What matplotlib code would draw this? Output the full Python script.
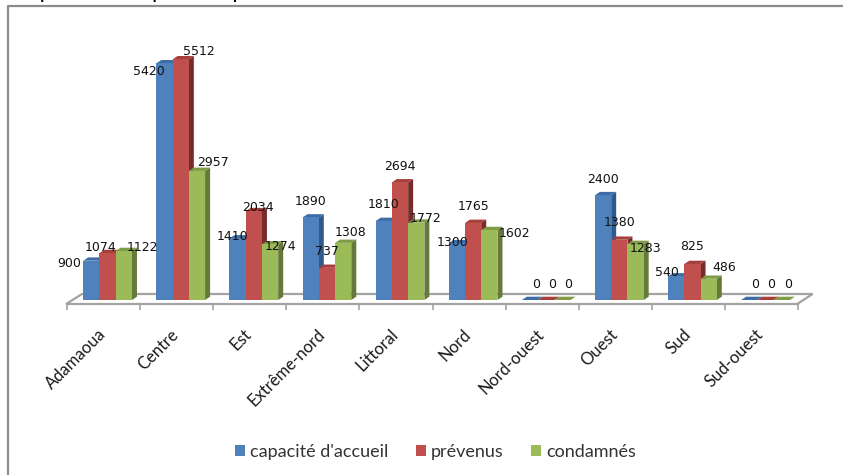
import matplotlib
matplotlib.use("Agg")
import matplotlib.pyplot as plt
from matplotlib.lines import Line2D
from matplotlib.patches import Patch
from matplotlib.transforms import ScaledTranslation

categories = ["Adamaoua", "Centre", "Est", "Extrême-nord", "Littoral", "Nord",
              "Nord-ouest", "Ouest", "Sud", "Sud-ouest"]
capacite = [900, 5420, 1410, 1890, 1810, 1300, 0, 2400, 540, 0]
prevenus = [1074, 5512, 2034, 737, 2694, 1765, 0, 1380, 825, 0]
condamnes = [1122, 2957, 1274, 1308, 1772, 1602, 0, 1283, 486, 0]
series_names = ["capacité d'accueil", "prévenus", "condamnés"]
title_text = "occupation des prisons par les autorités"

# label offsets in pixels from bar-top centre (x right, y up), per series
off_cap = [(-22, -3), (-16, -8), (-5, 2), (0, 16), (0, 16), (-4, 1), (6, 16), (0, 16), (-9, 4), (6, 16)]
off_pre = [(-7, 6), (18, 8), (4, 4), (0, 16), (0, 16), (0, 16), (6, 16), (0, 17), (0, 17), (6, 16)]
off_con = [(19, 4), (16, 8), (10, -2), (7, 10), (9, 4), (25, -3), (6, 16), (10, -5), (16, 11), (6, 16)]

FRONT = ["#4F81BD", "#C0504D", "#9BBB59"]
TOP = ["#3E6CA6", "#A63E3B", "#7F9C45"]
SIDE = ["#2F5A8C", "#772C2A", "#657A3A"]
GREY = "#a3a3a3"
BORDER = "#8c8c8c"

W, H = 843, 475
fig = plt.figure(figsize=(W / 100, H / 100), dpi=100, facecolor="white")
L, R, B, T = 67, 798, 300, 38
ax = fig.add_axes([L / W, 1 - B / H, (R - L) / W, (B - T) / H])
ax.set_xlim(0, len(categories))
ax.set_ylim(0, 6000)
ax.patch.set_visible(False)

px_x = len(categories) / (R - L)
px_y = 6000 / (B - T)
depth_x, depth_y = 5 * px_x, 3.3 * px_y
bar_w = 1 / 4.5
start = bar_w


def bar3d(x0, v, i):
    x1 = x0 + bar_w
    ax.fill([x1, x1 + depth_x, x1 + depth_x, x1],
            [0, depth_y, v + depth_y, v], color=SIDE[i], lw=0, clip_on=False, zorder=3)
    ax.fill([x0, x0 + depth_x, x1 + depth_x, x1],
            [v, v + depth_y, v + depth_y, v], color=TOP[i], lw=0, clip_on=False, zorder=3)
    ax.bar(x0, v, width=bar_w, align="edge", color=FRONT[i], lw=0, clip_on=False, zorder=3)


all_series = [capacite, prevenus, condamnes]
all_off = [off_cap, off_pre, off_con]
for c in range(len(categories)):
    for i, vals in enumerate(all_series):
        bar3d(c + start + i * bar_w, vals[c], i)
for i, vals in enumerate(all_series):
    for c, v in enumerate(vals):
        ox, oy = all_off[i][c]
        ax.annotate(str(v), (c + start + (i + 0.5) * bar_w, v), xytext=(ox, oy),
                    textcoords="offset pixels", ha="center", va="center",
                    fontsize=9, color="#111111", family="DejaVu Sans",
                    annotation_clip=False, zorder=6)

# floor
front_gap = 3.5 * px_y
ax.plot([0, 15 * px_x, 10 + 14.6 * px_x, 10],
        [-front_gap, 6 * px_y, 6 * px_y, -front_gap],
        color=GREY, lw=1.6, clip_on=False, zorder=1, solid_joinstyle="miter")

for s in ["top", "left", "right"]:
    ax.spines[s].set_visible(False)
ax.spines["bottom"].set_position(("outward", 2.52))
ax.spines["bottom"].set_color(GREY)
ax.spines["bottom"].set_linewidth(1.6)
ax.set_yticks([])
ax.set_xticks(range(len(categories) + 1), minor=True)
ax.tick_params(axis="x", which="minor", length=4.2, width=1.2, color=GREY)
ax.set_xticks([c + 0.5 for c in range(len(categories))])
ax.set_xticklabels(categories, rotation=45, ha="right", rotation_mode="anchor",
                   fontsize=12, family="Lato", color="#1a1a1a")
ax.tick_params(axis="x", which="major", length=0, pad=17)
shift = ScaledTranslation(-6 / 100, 1 / 100, fig.dpi_scale_trans)
for lab in ax.get_xticklabels():
    lab.set_transform(lab.get_transform() + shift)

handles = [Patch(color=FRONT[i], lw=0) for i in range(3)]
ax.legend(handles, series_names, ncol=3, frameon=False, loc="center",
          bbox_to_anchor=(435.5 / W, 1 - 452 / H), bbox_transform=fig.transFigure,
          handlelength=0.55, handleheight=0.55, handletextpad=0.3,
          columnspacing=1.5, borderpad=0, labelcolor="#333333",
          prop={"family": "Lato", "size": 13})

# picture frame
fig.add_artist(Line2D([8 / W, 8 / W, 1], [0, 1 - 6 / H, 1 - 6 / H], color=BORDER, lw=1.6))
fig.text(-9 / W, 1 + 2.5 / H, title_text, fontsize=16.6, family="Liberation Sans", color="black",
         va="baseline", ha="left")

fig.savefig("out.png", dpi=100, facecolor="white")
